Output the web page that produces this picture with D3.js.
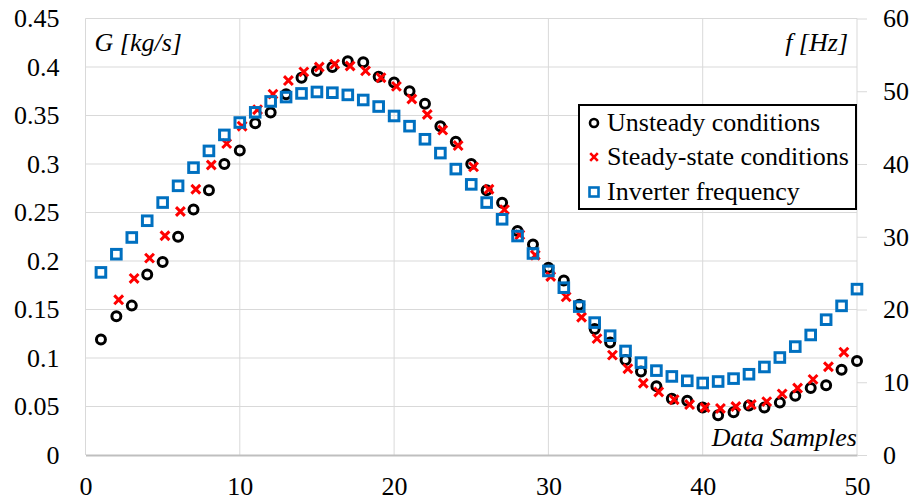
<!DOCTYPE html>
<html>
<head>
<meta charset="utf-8">
<script src="https://cdn.jsdelivr.net/npm/d3@7"></script>
<style>
  body { margin: 0; background: #fff; }
</style>
</head>
<body>
<div id="chart"></div>
<script>
// sample index for unsteady + inverter series
var samples = [1,2,3,4,5,6,7,8,9,10,11,12,13,14,15,16,17,18,19,20,21,22,23,24,25,
  26,27,28,29,30,31,32,33,34,35,36,37,38,39,40,41,42,43,44,45,46,47,48,49,50];

// mass flow, unsteady conditions [kg/s]
var unsteady = [0.119,0.143,0.154,0.186,0.199,0.225,0.253,0.273,0.300,0.314,
  0.342,0.353,0.372,0.389,0.396,0.400,0.406,0.405,0.390,0.384,
  0.375,0.362,0.339,0.323,0.300,0.273,0.260,0.231,0.217,0.193,
  0.180,0.155,0.130,0.116,0.098,0.086,0.071,0.058,0.056,0.049,
  0.041,0.044,0.051,0.049,0.054,0.061,0.069,0.072,0.088,0.097];

// steady-state samples sit a little to the right of the integer positions
var steadyX = [2.15,3.15,4.15,5.15,6.15,7.15,8.15,9.15,10.15,11.15,12.15,13.15,
  14.15,15.15,16.15,17.15,18.15,19.15,20.15,21.15,22.15,23.15,24.15,25.15,26.15,
  27.15,28.15,29.15,30.15,31.15,32.15,33.15,34.15,35.15,36.15,37.15,38.15,39.15,
  40.15,41.15,42.15,43.15,44.15,45.15,46.15,47.15,48.15,49.15];
var steady = [0.160,0.182,0.203,0.226,0.251,0.274,0.299,0.321,0.339,0.356,
  0.372,0.386,0.395,0.400,0.403,0.401,0.396,0.389,0.380,0.367,
  0.351,0.335,0.319,0.297,0.274,0.253,0.227,0.206,0.184,0.163,
  0.142,0.120,0.103,0.089,0.074,0.065,0.057,0.052,0.049,0.048,
  0.050,0.052,0.055,0.063,0.069,0.078,0.091,0.106];

// inverter frequency [Hz], right axis
var inverter = [25.1,27.6,29.9,32.2,34.7,37.0,39.5,41.8,44.0,45.7,
  47.1,48.6,49.2,49.7,49.9,49.8,49.5,48.8,47.9,46.6,
  45.2,43.4,41.5,39.3,37.2,34.7,32.4,30.1,27.7,25.3,
  23.0,20.4,18.2,16.4,14.3,12.7,11.6,10.8,10.2,9.9,
  10.1,10.5,11.1,12.1,13.4,14.9,16.5,18.6,20.5,22.8];

var xTicks = [0,10,20,30,40,50];
var gTicks = [0,0.05,0.1,0.15,0.2,0.25,0.3,0.35,0.4,0.45];
var fTicks = [0,10,20,30,40,50,60];
var legendItems = ['Unsteady conditions','Steady-state conditions','Inverter frequency'];

var FONT = '"Liberation Serif"';
var W = 911, H = 502;
var margin = { top: 18.5, right: 54, bottom: 47, left: 85.5 };
var width = W - margin.left - margin.right;
var height = H - margin.top - margin.bottom;

var svg = d3.select('#chart').append('svg')
  .attr('width', W).attr('height', H);
var g = svg.append('g')
  .attr('transform', 'translate(' + margin.left + ',' + margin.top + ')');

var xScale = d3.scaleLinear().domain([0, 50]).range([0, width]);
var yScale = d3.scaleLinear().domain([0, 0.45]).range([height, 0]);
var fScale = d3.scaleLinear().domain([0, 60]).range([height, 0]);

// gridlines
g.selectAll('.hgrid').data(gTicks.slice(1)).enter().append('line')
  .attr('x1', 0).attr('x2', width)
  .attr('y1', function(d){ return yScale(d); })
  .attr('y2', function(d){ return yScale(d); })
  .style('stroke', '#d9d9d9').style('stroke-width', 1);
g.selectAll('.vgrid').data(xTicks).enter().append('line')
  .attr('y1', 0).attr('y2', height)
  .attr('x1', function(d){ return xScale(d); })
  .attr('x2', function(d){ return xScale(d); })
  .style('stroke', '#d9d9d9').style('stroke-width', 1);

function styleTicks(sel) {
  sel.attr('font-family', null);
  sel.selectAll('text')
    .style('font-size', '26px')
    .style('font-family', FONT)
    .style('fill', '#000');
}

// left axis (labels only)
var yAxis = d3.axisLeft(yScale).tickValues(gTicks).tickSize(0).tickPadding(26)
  .tickFormat(function(d){ return String(+d.toFixed(2)); });
var ya = g.append('g').call(yAxis);
ya.select('.domain').remove();
styleTicks(ya);

// bottom axis
var xAxis = d3.axisBottom(xScale).tickValues(xTicks).tickSize(0).tickPadding(22);
var xa = g.append('g').attr('transform', 'translate(0,' + height + ')').call(xAxis);
xa.select('.domain').style('stroke', '#bfbfbf').style('stroke-width', 2);
styleTicks(xa);

// right axis
var fAxis = d3.axisRight(fScale).tickValues(fTicks).tickSize(10).tickPadding(16);
var fa = g.append('g').attr('transform', 'translate(' + width + ',0)').call(fAxis);
fa.select('.domain').remove();
fa.selectAll('line').style('stroke', '#d9d9d9');
styleTicks(fa);

// axis titles
function title(x, y, anchor, txt) {
  g.append('text').attr('x', x).attr('y', y).attr('text-anchor', anchor)
    .style('font-family', FONT).style('font-size', '26px').style('font-style', 'italic')
    .text(txt);
}
title(9, 32, 'start', 'G [kg/s]');
title(width - 9, 32, 'end', 'f [Hz]');
title(width, height - 9, 'end', 'Data Samples');

var crossPath = function(s){ return 'M' + (-s) + ',' + (-s) + 'L' + s + ',' + s + 'M' + (-s) + ',' + s + 'L' + s + ',' + (-s); };

// unsteady circles
g.selectAll('.ci').data(samples).enter().append('circle')
  .attr('cx', function(d){ return xScale(d); })
  .attr('cy', function(d, i){ return yScale(unsteady[i]); })
  .attr('r', 4.5)
  .style('fill', 'none').style('stroke', '#000').style('stroke-width', 3);

// steady-state crosses
g.selectAll('.cr').data(steadyX).enter().append('path')
  .attr('transform', function(d, i){ return 'translate(' + xScale(d) + ',' + yScale(steady[i]) + ')'; })
  .attr('d', crossPath(4.4))
  .style('fill', 'none').style('stroke', '#ff0000').style('stroke-width', 3);

// inverter squares
g.selectAll('.sq').data(samples).enter().append('rect')
  .attr('x', function(d, i){ return xScale(d) - 4.8; })
  .attr('y', function(d, i){ return fScale(inverter[i]) - 4.8; })
  .attr('width', 9.6).attr('height', 9.6)
  .style('fill', 'none').style('stroke', '#0070c0').style('stroke-width', 3);

// legend
var lg = svg.append('g').attr('transform', 'translate(579,105)');
lg.append('rect').attr('x', 0).attr('y', 0).attr('width', 277).attr('height', 104)
  .style('fill', '#fff').style('stroke', '#000').style('stroke-width', 2);
var rowY = [18, 52, 87];
lg.append('circle').attr('cx', 15).attr('cy', rowY[0]).attr('r', 4)
  .style('fill', 'none').style('stroke', '#000').style('stroke-width', 2.6);
lg.append('path').attr('transform', 'translate(15,' + rowY[1] + ')').attr('d', crossPath(3.8))
  .style('fill', 'none').style('stroke', '#ff0000').style('stroke-width', 2.6);
lg.append('rect').attr('x', 10.5).attr('y', rowY[2] - 4.5).attr('width', 9).attr('height', 9)
  .style('fill', 'none').style('stroke', '#0070c0').style('stroke-width', 2.6);
lg.selectAll('.lt').data(legendItems).enter().append('text')
  .attr('x', 28)
  .attr('y', function(d, i){ return rowY[i] + 8; })
  .style('font-family', FONT)
  .style('font-size', '26px')
  .text(function(d){ return d; });
</script>
</body>
</html>
